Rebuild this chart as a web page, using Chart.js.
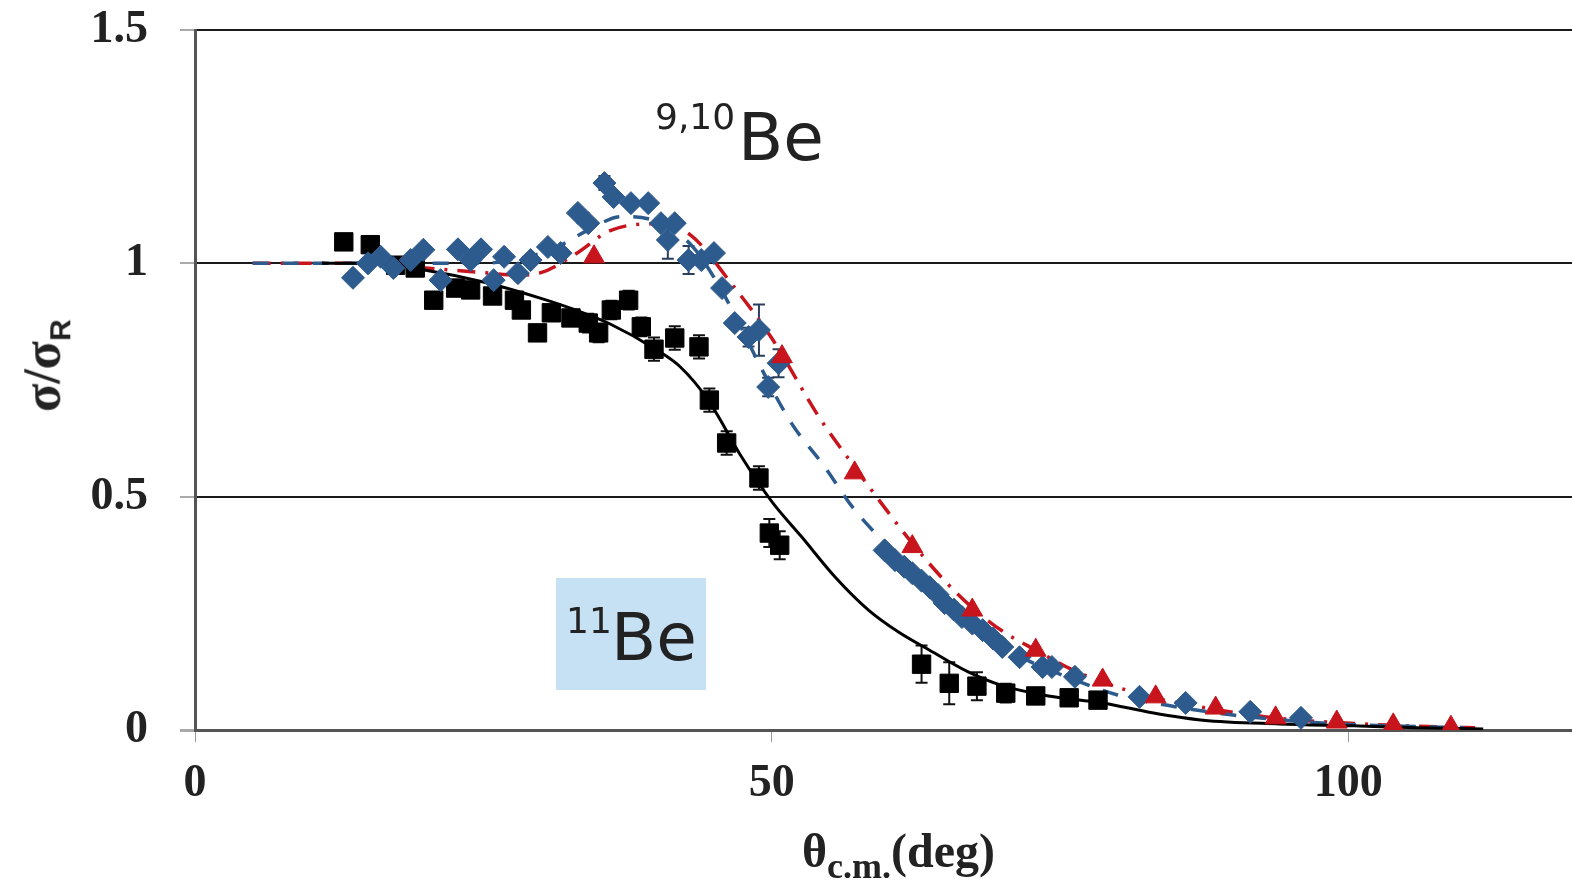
<!DOCTYPE html>
<html>
<head>
<meta charset="utf-8">
<script src="https://cdn.jsdelivr.net/npm/chart.js@4.4.1/dist/chart.umd.min.js"></script>
<style>
  html, body { margin: 0; padding: 0; background: #fff; }
  #wrap { position: relative; width: 1572px; height: 883px; overflow: hidden; }
  #chart { position: absolute; left: 0; top: 0; }
  .ann { position: absolute; white-space: nowrap; line-height: 1; font-family: "DejaVu Sans", Verdana, sans-serif; color: #222; }
  .axt { position: absolute; white-space: nowrap; line-height: 1; font-family: "Liberation Serif", "Times New Roman", serif; font-weight: bold; color: #222; }
  #box11 { position: absolute; left: 556px; top: 578px; width: 150px; height: 112px; background: #c6e0f4; }
</style>
</head>
<body>
<div id="wrap">
  <div id="box11"></div>
  <canvas id="chart" width="1572" height="883"></canvas>
  <div class="ann" style="left:655px;top:99px;font-size:36px;">9,10</div>
  <div class="ann" style="left:738px;top:105px;font-size:66px;">Be</div>
  <div class="ann" style="left:566px;top:603px;font-size:36px;">11</div>
  <div class="ann" style="left:611px;top:605px;font-size:66px;">Be</div>
  <div class="axt" id="ytitle" style="left:-14px;top:336px;width:120px;font-size:52px;text-align:center;transform:rotate(-90deg);transform-origin:center;">σ/σ<sub style="font-size:30px;font-family:'Liberation Sans',Arial,sans-serif;">R</sub></div>
  <div class="axt" style="left:802px;top:827px;font-size:48px;">θ<sub style="font-size:36px;">c.m.</sub>(deg)</div>
</div>
<script>
// axis ticks
const xTicks = [0, 50, 100];
const yTicks = [0, 0.5, 1, 1.5];

// 11Be data (black squares)
const be11X = [12.9, 15.2, 17.4, 19.1, 20.7, 22.6, 23.9, 25.8, 27.7, 28.3, 29.7, 30.9, 32.6, 34.1, 35.0, 36.1, 37.6, 38.7, 39.8, 41.6, 43.7, 44.6, 46.1, 48.9, 49.8, 50.7, 63.0, 65.4, 67.8, 70.3, 72.9, 75.8, 78.3];
const be11Y = [1.046, 1.04, 0.996, 0.99, 0.921, 0.947, 0.943, 0.93, 0.921, 0.90, 0.851, 0.894, 0.883, 0.872, 0.851, 0.90, 0.921, 0.864, 0.816, 0.84, 0.821, 0.707, 0.615, 0.54, 0.422, 0.396, 0.141, 0.10, 0.094, 0.079, 0.073, 0.069, 0.064];
const be11Err = [0.01, 0.01, 0.01, 0.01, 0.01, 0.01, 0.01, 0.01, 0.015, 0.015, 0.015, 0.015, 0.015, 0.02, 0.02, 0.02, 0.02, 0.02, 0.025, 0.025, 0.025, 0.025, 0.025, 0.025, 0.03, 0.03, 0.04, 0.045, 0.03, 0.02, 0.015, 0.01, 0.01];

// 9,10Be data (blue diamonds)
const be910X = [13.7, 15.0, 16.1, 17.2, 18.7, 19.8, 21.3, 22.8, 23.9, 24.8, 25.9, 26.8, 28.0, 29.1, 30.6, 31.7, 33.2, 34.1, 35.5, 36.3, 37.8, 39.3, 40.4, 41.0, 41.6, 42.8, 43.9, 45.0, 45.7, 46.8, 48.0, 48.9, 49.7, 50.6, 59.8, 60.7, 61.5, 62.2, 63.0, 63.7, 64.4, 65.0, 65.8, 66.5, 67.4, 68.3, 69.2, 70.0, 71.5, 73.5, 74.3, 76.3, 81.9, 85.9, 91.5, 95.9];
const be910Y = [0.969, 1.0, 1.014, 0.99, 1.007, 1.029, 0.964, 1.03, 1.007, 1.03, 0.964, 1.014, 0.979, 1.007, 1.035, 1.022, 1.108, 1.086, 1.172, 1.142, 1.129, 1.129, 1.086, 1.05, 1.086, 1.007, 1.007, 1.022, 0.947, 0.872, 0.842, 0.857, 0.735, 0.786, 0.385, 0.364, 0.35, 0.336, 0.32, 0.306, 0.29, 0.272, 0.258, 0.242, 0.228, 0.214, 0.196, 0.178, 0.156, 0.135, 0.135, 0.114, 0.071, 0.058, 0.039, 0.026];
const be910Err = [0, 0, 0, 0, 0, 0, 0, 0, 0, 0, 0, 0, 0, 0, 0, 0, 0, 0, 0.015, 0, 0, 0, 0, 0.04, 0, 0.03, 0, 0, 0, 0, 0.02, 0.055, 0.02, 0.03, 0, 0, 0, 0, 0, 0, 0, 0, 0, 0, 0, 0, 0, 0, 0, 0, 0, 0, 0, 0, 0, 0];

// second set (red triangles)
const redX = [34.6, 50.9, 57.2, 62.2, 67.4, 72.9, 78.7, 83.3, 88.5, 93.7, 99.0, 103.9, 108.9];
const redY = [1.014, 0.80, 0.551, 0.393, 0.257, 0.171, 0.107, 0.071, 0.047, 0.026, 0.017, 0.011, 0.006];

// calculated curves
const fitBlackX = [11, 15, 20, 25, 30, 33, 36, 40, 42, 44.5, 47.4, 50, 52.6, 55.5, 58.4, 61, 63.7, 67, 70, 74, 78.7, 83, 87.4, 94, 100.4, 106, 111.7];
const fitBlackY = [1.0, 1.0, 0.985, 0.96, 0.925, 0.9, 0.87, 0.815, 0.78, 0.707, 0.585, 0.49, 0.414, 0.328, 0.257, 0.21, 0.171, 0.125, 0.095, 0.073, 0.058, 0.037, 0.021, 0.013, 0.009, 0.005, 0.002];
const fitBlueX = [5, 10, 15, 20, 25, 28, 31, 34, 37, 40, 43, 45, 47, 49, 51.7, 54.6, 57, 59.8, 62, 65, 68, 70, 73, 76, 80, 85, 90, 95, 100, 105, 110];
const fitBlueY = [1.0, 1.0, 1.0, 1.0, 1.0, 1.01, 1.03, 1.07, 1.1, 1.09, 1.04, 0.97, 0.88, 0.78, 0.658, 0.564, 0.478, 0.40, 0.34, 0.272, 0.214, 0.178, 0.14, 0.11, 0.075, 0.05, 0.032, 0.02, 0.012, 0.008, 0.005];
const fitRedX = [5, 10, 15, 20, 25, 28, 30, 33, 36, 40, 43, 46.5, 50, 54.1, 57, 60, 62.2, 65, 67.4, 70, 73, 76, 79, 83, 88, 94, 99, 104, 109, 111];
const fitRedY = [1.0, 1.0, 1.0, 0.99, 0.98, 0.975, 0.98, 1.02, 1.07, 1.085, 1.06, 0.957, 0.84, 0.671, 0.57, 0.47, 0.40, 0.32, 0.262, 0.212, 0.17, 0.13, 0.1, 0.07, 0.046, 0.025, 0.016, 0.01, 0.006, 0.005];

const BLUE = '#2d5b8e';
const RED = '#c8141c';

function pts(xs, ys) {
  return xs.map((x, i) => ({ x: x, y: ys[i] }));
}

// vertical error bars, drawn under the markers
const errorBars = {
  id: 'errorBars',
  beforeDatasetsDraw(chart) {
    const ctx = chart.ctx;
    const xs = chart.scales.x, ys = chart.scales.y;
    const sets = [
      { x: be11X, y: be11Y, e: be11Err, c: '#111' },
      { x: be910X, y: be910Y, e: be910Err, c: '#2a3f5c' }
    ];
    ctx.save();
    ctx.lineWidth = 2;
    sets.forEach(s => {
      ctx.strokeStyle = s.c;
      s.x.forEach((xv, i) => {
        if (!s.e[i]) return;
        const px = xs.getPixelForValue(xv);
        const top = ys.getPixelForValue(s.y[i] + s.e[i]);
        const bot = ys.getPixelForValue(s.y[i] - s.e[i]);
        ctx.beginPath();
        ctx.moveTo(px, top); ctx.lineTo(px, bot);
        ctx.moveTo(px - 6, top); ctx.lineTo(px + 6, top);
        ctx.moveTo(px - 6, bot); ctx.lineTo(px + 6, bot);
        ctx.stroke();
      });
    });
    ctx.restore();
  }
};

const tickFont = { family: "'Liberation Serif', 'Times New Roman', serif", size: 46, weight: 'bold' };

new Chart(document.getElementById('chart').getContext('2d'), {
  type: 'scatter',
  data: {
    datasets: [
      {
        label: '9,10Be (2)', data: pts(redX, redY), order: 0,
        pointStyle: 'triangle', pointRadius: 12, backgroundColor: RED, borderColor: RED, borderWidth: 1
      },
      {
        label: '9,10Be', data: pts(be910X, be910Y), order: 1,
        pointStyle: 'rectRot', pointRadius: 11.5, backgroundColor: BLUE, borderColor: BLUE, borderWidth: 1
      },
      {
        label: '11Be', data: pts(be11X, be11Y), order: 2,
        pointStyle: 'rect', pointRadius: 13, backgroundColor: '#000', borderColor: '#000', borderWidth: 1
      },
      {
        label: '11Be calc', data: pts(fitBlackX, fitBlackY), order: 3, showLine: true,
        pointRadius: 0, borderColor: '#000', borderWidth: 3, cubicInterpolationMode: 'monotone'
      },
      {
        label: '9,10Be calc', data: pts(fitBlueX, fitBlueY), order: 4, showLine: true,
        pointRadius: 0, borderColor: BLUE, borderWidth: 3.5, borderDash: [16, 14], cubicInterpolationMode: 'monotone'
      },
      {
        label: '9,10Be calc 2', data: pts(fitRedX, fitRedY), order: 5, showLine: true,
        pointRadius: 0, borderColor: RED, borderWidth: 3.5, borderDash: [18, 10, 3, 10], cubicInterpolationMode: 'monotone'
      }
    ]
  },
  options: {
    responsive: false,
    animation: false,
    layout: { autoPadding: false, padding: { top: 30, right: 0, left: 0, bottom: 0 } },
    plugins: { legend: { display: false }, tooltip: { enabled: false } },
    scales: {
      x: {
        type: 'linear', min: 0, max: 119.4,
        afterBuildTicks: s => { s.ticks = xTicks.map(v => ({ value: v })); },
        afterFit: s => { s.height = 153; s.paddingLeft = 0; s.paddingRight = 0; },
        grid: { drawOnChartArea: false, drawTicks: true, tickLength: 12, color: '#999', lineWidth: 1 },
        border: { display: true, color: '#555', width: 3 },
        ticks: { font: tickFont, color: '#222', padding: 15, maxRotation: 0 }
      },
      y: {
        type: 'linear', min: 0, max: 1.5,
        afterBuildTicks: s => { s.ticks = yTicks.map(v => ({ value: v })); },
        afterFit: s => { s.width = 195; s.paddingTop = 0; s.paddingBottom = 0; },
        grid: {
          color: c => (c.tick && c.tick.value === 0) ? '#555' : '#1a1a1a',
          lineWidth: c => (c.tick && c.tick.value === 0) ? 3 : 2,
          tickColor: '#aaa', tickLength: 15, drawTicks: true
        },
        border: { display: true, color: '#555', width: 3 },
        ticks: { font: tickFont, color: '#222', padding: 32, callback: v => String(v) }
      }
    }
  },
  plugins: [errorBars]
});
</script>
</body>
</html>
